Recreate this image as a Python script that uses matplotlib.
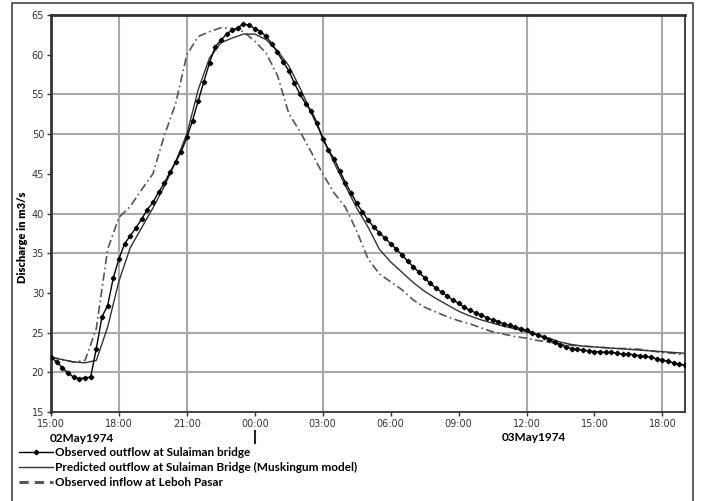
import numpy as np
import matplotlib
matplotlib.use('Agg')
import matplotlib.pyplot as plt
from matplotlib.lines import Line2D
from matplotlib.patches import Rectangle

# hours after 15:00 on 02 May 1974
tick_hours = [0, 3, 6, 9, 12, 15, 18, 21, 24, 27]
tick_labels = ['15:00', '18:00', '21:00', '00:00', '03:00',
               '06:00', '09:00', '12:00', '15:00', '18:00']
grid_hours = [3, 6, 12, 21, 27]
grid_levels = [20, 25, 35, 40, 50, 55]

# observed outflow at Sulaiman bridge, every 15 minutes
obs_outflow = [
    21.9, 21.3, 20.6, 19.9, 19.4, 19.2, 19.3, 19.4, 23.0, 27.0, 28.4, 31.9,
    34.3, 36.2, 37.2, 38.2, 39.3, 40.5, 41.4, 42.7, 43.8, 45.2, 46.5, 47.8,
    49.6, 51.7, 54.2, 56.6, 59.0, 61.0, 61.8, 62.6, 63.1, 63.4, 63.9, 63.7,
    63.3, 62.9, 62.3, 61.4, 60.3, 59.1, 58.0, 56.4, 55.0, 53.8, 52.9, 51.4,
    49.4, 48.0, 46.9, 45.4, 43.9, 42.6, 41.3, 40.2, 39.2, 38.3, 37.6, 36.9,
    36.2, 35.5, 34.8, 34.0, 33.3, 32.6, 31.9, 31.2, 30.6, 30.1, 29.6, 29.1,
    28.7, 28.2, 27.8, 27.5, 27.2, 26.9, 26.6, 26.4, 26.1, 25.9, 25.7, 25.5,
    25.3, 25.0, 24.7, 24.4, 24.1, 23.8, 23.5, 23.2, 23.0, 22.9, 22.8, 22.7,
    22.6, 22.6, 22.5, 22.5, 22.4, 22.3, 22.3, 22.2, 22.1, 22.0, 21.9, 21.7,
    21.5, 21.4, 21.2, 21.0, 20.9]

# Muskingum prediction and upstream inflow, every 30 minutes
pred_outflow = [
    21.9, 21.6, 21.3, 21.2, 21.5, 25.7, 31.5, 35.7, 38.2, 40.7, 43.4, 46.5,
    50.0, 55.6, 59.6, 61.5, 62.1, 62.6, 62.6, 61.9, 60.5, 58.6, 55.8, 52.6,
    49.6, 46.4, 43.5, 40.7, 38.3, 35.5, 33.9, 32.6, 31.3, 30.2, 29.3, 28.5,
    27.7, 27.1, 26.6, 26.2, 25.8, 25.5, 25.1, 24.7, 24.3, 23.8, 23.5, 23.3,
    23.2, 23.1, 23.0, 22.9, 22.8, 22.7, 22.6, 22.5, 22.4]
obs_inflow = [
    21.9, 21.6, 21.3, 21.5, 25.5, 35.5, 39.5, 40.9, 43.0, 45.0, 49.8, 53.8,
    60.0, 62.3, 62.9, 63.4, 63.3, 62.9, 61.7, 60.2, 57.4, 52.6, 50.3, 47.7,
    45.0, 42.6, 40.8, 37.8, 34.3, 32.4, 31.4, 30.4, 29.1, 28.2, 27.6, 27.0,
    26.5, 26.1, 25.6, 25.1, 24.8, 24.5, 24.3, 24.0, 23.8, 23.5, 23.4, 23.3,
    23.2, 23.1, 23.0, 23.0, 22.9, 22.7, 22.5, 22.4, 22.2]

t_obs = np.arange(len(obs_outflow)) * 0.25
t_half = np.arange(len(pred_outflow)) * 0.5

fig = plt.figure(figsize=(7.01, 5.01), dpi=100)
ax = fig.add_axes([0.0728, 0.1776, 0.9044, 0.7924])

for h in grid_hours:
    ax.axvline(h, color='#aaaaaa', lw=1.5, zorder=0)
for v in grid_levels:
    ax.axhline(v, color='#aaaaaa', lw=1.5, zorder=0)

ax.plot(t_half, obs_inflow, color='#555555', lw=1.2, ls=(0, (5, 2, 1, 2)), zorder=2)
ax.plot(t_half, pred_outflow, color='#333333', lw=1.0, zorder=3)
ax.plot(t_obs, obs_outflow, color='black', lw=1.0, marker='D', ms=2.3, zorder=4)

ax.set_xlim(0, 28)
ax.set_ylim(15, 65)
ax.set_yticks(range(15, 66, 5))
ax.set_xticks(tick_hours)
ax.set_xticklabels(tick_labels)
ax.tick_params(labelsize=7, colors='#333333', length=3, width=1, pad=2)

for s in ax.spines.values():
    s.set_color('#333333')
    s.set_linewidth(1.3)
ax.spines['left'].set_linewidth(2)
ax.spines['top'].set_linewidth(2)

ax.set_ylabel('Discharge in m3/s', fontsize=8, fontweight='heavy', family='Lato')
ax.yaxis.set_label_coords(-0.037, 0.44)

date_font = {'family': 'Lato', 'weight': 'bold', 'size': 8.5}
fig.text(0.071, 0.117, '02May1974', **date_font)
fig.text(0.761, 0.119, '03May1974', ha='center', **date_font)
fig.add_artist(Line2D([255 / 701, 255 / 701], [1 - 431 / 501, 1 - 443 / 501],
                      color='#222222', lw=1.5))

handles = [
    Line2D([], [], color='black', lw=1.0, marker='D', ms=2.3, markevery=[1]),
    Line2D([], [], color='#333333', lw=1.0),
    Line2D([], [], color='#555555', lw=2.2, ls=(0, (3, 2))),
]
labels = ['Observed outflow at Sulaiman bridge',
          'Predicted outflow at Sulaiman Bridge (Muskingum model)',
          'Observed inflow at Leboh Pasar']
fig.legend(handles, labels, loc='upper left', bbox_to_anchor=(0.018, 0.12),
           frameon=False, handlelength=2.9, handletextpad=0.2, labelspacing=0.35,
           borderpad=0, prop={'family': 'Lato', 'weight': 'bold', 'size': 8.5})

fig.add_artist(Rectangle((12 / 701, -0.02), 681 / 701, 1 - 3 / 501 + 0.02,
                         transform=fig.transFigure, fill=False,
                         edgecolor='#444444', lw=1.2))

fig.savefig('out.png', dpi=100)
